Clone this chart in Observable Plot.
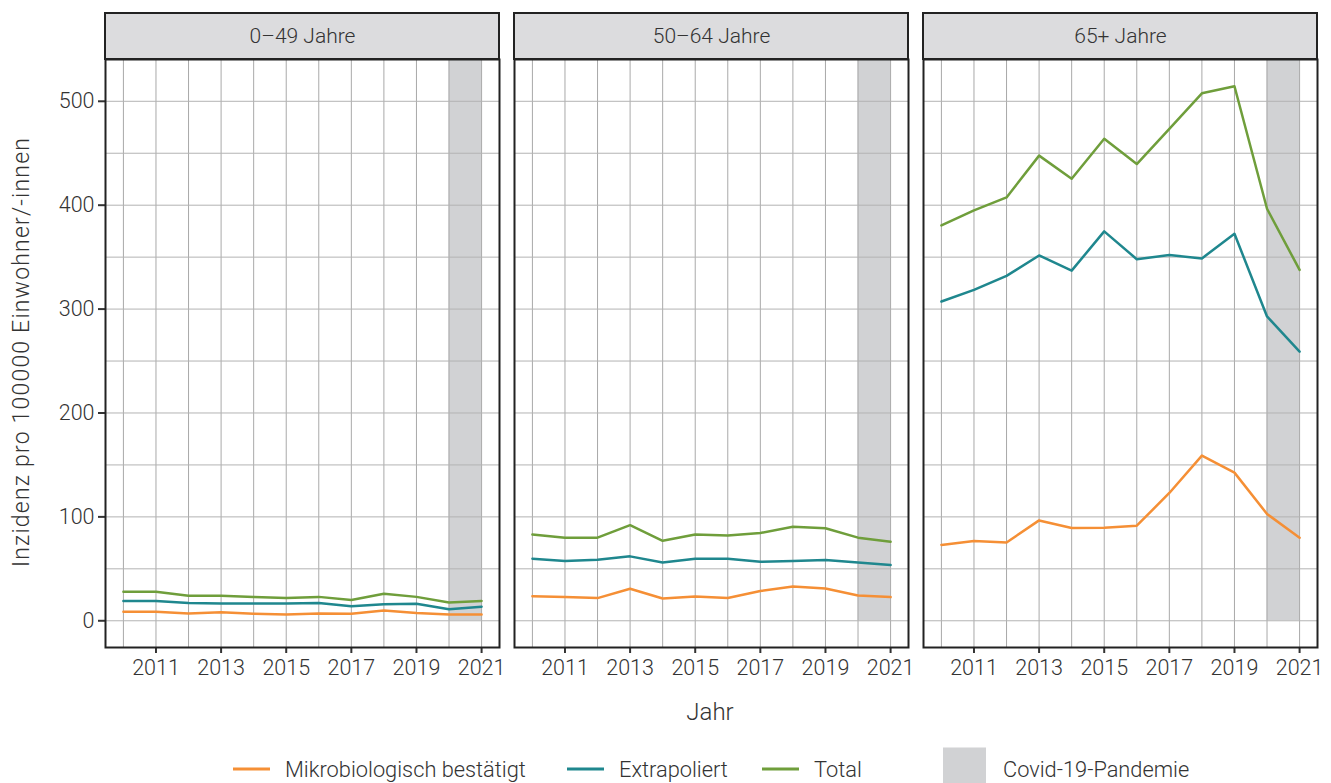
<!DOCTYPE html>
<html>
<head>
<meta charset="utf-8">
<script src="https://cdn.jsdelivr.net/npm/d3@7"></script>
<script src="https://cdn.jsdelivr.net/npm/@observablehq/plot@0.6"></script>
<style>
  html, body { margin: 0; padding: 0; background: #fff; }
  body { font-family: Roboto, "Noto Sans", sans-serif; font-weight: 300; color: #333; }
  #wrap { position: relative; width: 1331px; height: 783px; overflow: hidden; }
  #chart { position: absolute; left: 0; top: 0; }
  .ytitle { position: absolute; left: 21px; top: 352px; transform: translate(-50%, -50%) rotate(-90deg); font-size: 23px; letter-spacing: 1.2px; white-space: nowrap; }
  .xtitle { position: absolute; left: 710px; top: 712px; transform: translate(-50%, -50%); font-size: 24px; }
  .leg { position: absolute; top: 769px; transform: translateY(-50%); display: flex; align-items: center; font-size: 21.8px; white-space: nowrap; }
  .sw { display: inline-block; width: 37px; height: 3px; margin-right: 15px; }
  .box { display: inline-block; width: 43px; height: 43px; background: #d1d2d4; margin-right: 17px; }
</style>
</head>
<body>
<div id="wrap">
  <div id="chart"></div>
  <div class="ytitle">Inzidenz pro 100000 Einwohner/-innen</div>
  <div class="xtitle">Jahr</div>
  <div id="legend"></div>
</div>
<script>
// ---- Data ----
const years = [2010, 2011, 2012, 2013, 2014, 2015, 2016, 2017, 2018, 2019, 2020, 2021];
const tickYears = [2011, 2013, 2015, 2017, 2019, 2021];
const yTicks = [0, 100, 200, 300, 400, 500];
const yMinorTicks = [50, 150, 250, 350, 450];
const groups = ["0–49 Jahre", "50–64 Jahre", "65+ Jahre"];
const series = ["Mikrobiologisch bestätigt", "Extrapoliert", "Total"];
const seriesColors = ["#f58f35", "#1f878e", "#6f9e3b"];
const covidLabel = "Covid-19-Pandemie";
const covidStart = 2020;
const covidEnd = 2021;

// 0–49 Jahre
const mikro_0_49 = [8.7, 8.7, 7, 8.3, 6.8, 6, 7, 6.8, 10, 7.4, 6, 6];
const extra_0_49 = [19, 19, 17, 16.7, 16.7, 16.7, 17, 14, 16, 16.4, 11, 13.5];
const total_0_49 = [28, 28, 24, 24, 23, 22, 23, 20, 26, 23, 17.6, 19];
// 50–64 Jahre
const mikro_50_64 = [23.7, 22.8, 21.8, 30.8, 21.5, 23.4, 22, 28.6, 33, 31, 24.4, 22.8];
const extra_50_64 = [59.7, 57.5, 58.8, 62, 56, 59.7, 59.7, 56.8, 57.5, 58.4, 56, 53.6];
const total_50_64 = [83, 80, 80, 92, 77, 83, 82, 84.5, 90.5, 89, 80, 76];
// 65+ Jahre
const mikro_65 = [73, 76.8, 75.4, 96.6, 89.3, 89.6, 91.5, 123, 159, 142.6, 102.8, 80];
const extra_65 = [307.3, 318.5, 332, 351.6, 337, 374.8, 348, 352, 348.8, 372.5, 292.9, 259];
const total_65 = [380.5, 395, 407.5, 447.7, 425.5, 464, 439.6, 473.4, 507.7, 514.5, 396.6, 337.7];

const valuesByGroup = [
  [mikro_0_49, extra_0_49, total_0_49],
  [mikro_50_64, extra_50_64, total_50_64],
  [mikro_65, extra_65, total_65]
];

const rows = [];
groups.forEach((g, gi) => {
  series.forEach((s, si) => {
    valuesByGroup[gi][si].forEach((v, yi) => rows.push({group: g, series: s, year: years[yi], value: v}));
  });
});

// ---- Scales ----
const xDomain = [years[0] - 0.55, years[years.length - 1] + 0.55];
const dataMax = d3.max(rows, d => d.value);
const yDomain = [-(dataMax * 0.05), dataMax * 1.05];
const yTop = yDomain[1];
const stripUnits = (yDomain[1] - yDomain[0]) / 588 * 46;

const chart = Plot.plot({
  width: 1331,
  height: 730,
  marginLeft: 105,
  marginRight: 14,
  marginTop: 59,
  marginBottom: 83,
  style: {fontFamily: "Roboto, 'Noto Sans', sans-serif", fontWeight: 300, fontSize: "21.5px", color: "#333", background: "#fff"},
  fx: {domain: groups, paddingInner: 0.0367, paddingOuter: 0, axis: null, label: null},
  x: {domain: xDomain, ticks: tickYears, tickFormat: d => String(d), tickSize: 6, tickPadding: 6, label: null},
  y: {domain: yDomain, ticks: yTicks, tickSize: 7, tickPadding: 4, label: null},
  color: {domain: series, range: seriesColors},
  marks: [
    Plot.rect(groups, {fx: d => d, x1: () => covidStart, x2: () => covidEnd, y1: () => 0, y2: () => yTop, fill: "#d1d2d4"}),
    Plot.ruleX(years, {x: d => d, stroke: "#a9a9a9", strokeWidth: 1}),
    Plot.ruleY(yTicks.concat(yMinorTicks), {y: d => d, stroke: "#b3b3b3", strokeWidth: 1}),
    Plot.line(rows, {fx: "group", x: "year", y: "value", stroke: "series", z: "series", strokeWidth: 2.5}),
    Plot.frame({stroke: "#222", strokeWidth: 2}),
    Plot.rect(groups, {fx: d => d, y1: () => yTop, y2: () => yTop + stripUnits, fill: "#dcdcde", stroke: "#222", strokeWidth: 2}),
    Plot.text(groups, {fx: d => d, text: d => d, y: () => yTop + stripUnits / 2, fontSize: 21, fill: "#333"})
  ]
});
d3.select(chart).selectAll('g[aria-label="x-axis tick"], g[aria-label="y-axis tick"]')
  .attr("stroke", "#222").attr("stroke-width", 2);
document.getElementById("chart").appendChild(chart);

// ---- Legend ----
const legend = document.getElementById("legend");
const legLeft = [233, 567, 762];
series.forEach((s, i) => {
  const item = document.createElement("div");
  item.className = "leg";
  item.style.left = legLeft[i] + "px";
  item.innerHTML = `<span class="sw" style="background:${seriesColors[i]}"></span><span>${s}</span>`;
  legend.appendChild(item);
});
const cov = document.createElement("div");
cov.className = "leg";
cov.style.left = "943px";
cov.innerHTML = `<span class="box"></span><span>${covidLabel}</span>`;
legend.appendChild(cov);
</script>
</body>
</html>
